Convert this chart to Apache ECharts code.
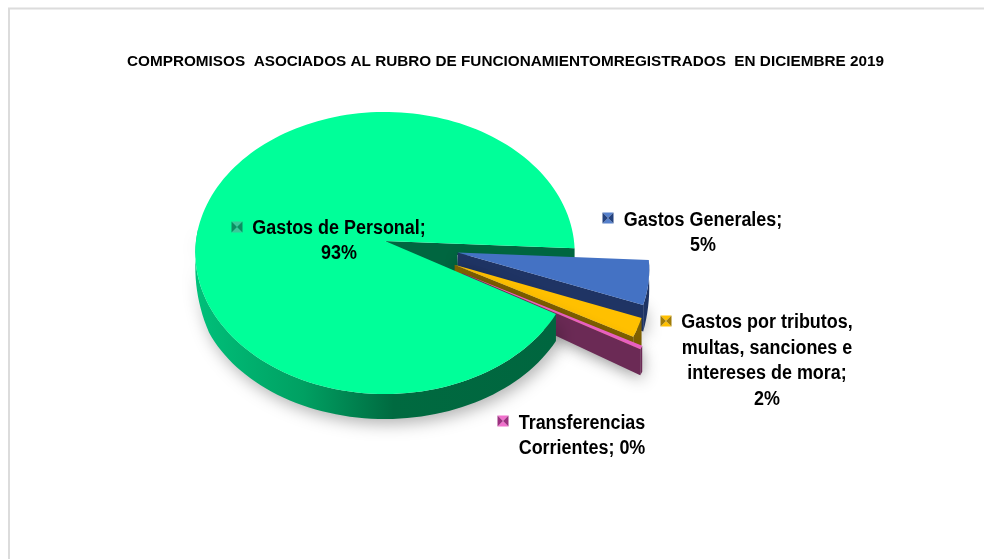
<!doctype html>
<html>
	<head>
		<meta charset="UTF-8">
		<title></title>
		<style>
			html, body { margin: 0; padding: 0; background: #fff; }
			#main { width: 984px; height: 559px; }
		</style>
	</head>
	<body>
		<div id="main"></div>
		<script src="https://cdn.jsdelivr.net/npm/echarts@6/dist/echarts.min.js"></script>
		<script type="text/javascript">
			var titleText = 'COMPROMISOS  ASOCIADOS AL RUBRO DE FUNCIONAMIENTOMREGISTRADOS  EN DICIEMBRE 2019';
			var categories = ['Gastos Generales', 'Gastos por tributos, multas, sanciones e intereses de mora', 'Transferencias Corrientes', 'Gastos de Personal'];
			var values = [5.0, 2.1, 0.4, 92.5];
			var labelLines = [
				['Gastos Generales;', '5%'],
				['Gastos por tributos,', 'multas, sanciones e', 'intereses de mora;', '2%'],
				['Transferencias', 'Corrientes; 0%'],
				['Gastos de Personal;', '93%']
			];

			// look of each slice, same order as categories
			var topColors = ['#4472C4', '#FFC000', '#E85FC0', '#00FF99'];
			var wallColors = ['#1F3464', '#7F6000', '#6B2A55', '#006640'];
			var keyLight = ['#5580CC', '#FFC000', '#F070CC', '#3CC79A'];
			var keyDark = ['#24427E', '#A07C08', '#9C3080', '#0E8C62'];
			var explode = [0.39, 0.40, 0.46, 0];
			var labelPos = [[703, 233], [767, 361], [582, 436], [339, 241]];
			var keyPos = [[608, 218], [666, 321], [503, 421], [237, 227]];

			// fake 3d: circle seen from above with a bit of perspective
			var cx = 385, cy = 241, rx = 189, ry = 140, persp = 0.085;
			var startDeg = 3;

			function project(u, v) {
				var w = 1 / (1 - persp * v);
				return [cx + rx * u * w, cy + ry * v * w];
			}
			function depth(v) {
				if (v < 0) return Math.max(0, 11 * (1 + v));
				if (v > 0.45) return 27 - 2 * (v - 0.45) / 0.55;
				return 11 + 16 * v / 0.45;
			}
			function arcPts(a0, a1, ou, ov) {
				var pts = [];
				var n = Math.max(2, Math.ceil((a1 - a0) / 2));
				for (var i = 0; i <= n; i++) {
					var a = (a0 + (a1 - a0) * i / n) * Math.PI / 180;
					pts.push([Math.cos(a) + ou, Math.sin(a) + ov]);
				}
				return pts;
			}
			function toTop(p) { return project(p[0], p[1]); }
			function toBottom(p) {
				var s = project(p[0], p[1]);
				return [s[0], s[1] + depth(p[1])];
			}
			function poly(points, fill, z2, shadow) {
				var style = { fill: fill };
				if (shadow) {
					style.shadowBlur = 16;
					style.shadowColor = 'rgba(0,0,0,0.3)';
					style.shadowOffsetX = 3;
					style.shadowOffsetY = 5;
				}
				return { type: 'polygon', z2: z2, shape: { points: points }, style: style };
			}
			function keyMark(x, y, light, dark, z2) {
				// little bevelled square next to the label
				var s = 5.5;
				var o = [x, y];
				var tl = [x - s, y - s], tr = [x + s, y - s], br = [x + s, y + s], bl = [x - s, y + s];
				return [
					poly([tl, tr, o], light, z2),
					poly([bl, br, o], light, z2),
					poly([tl, bl, o], dark, z2),
					poly([tr, br, o], dark, z2)
				];
			}

			var total = values.reduce(function (a, b) { return a + b; }, 0);

			function renderSlice(params, api) {
				var idx = params.dataIndex;
				var before = 0;
				for (var i = 0; i < idx; i++) before += values[i];
				var a0 = startDeg + before / total * 360;
				var a1 = a0 + api.value(1) / total * 360;
				var mid = (a0 + a1) / 2 * Math.PI / 180;
				var ou = explode[idx] * Math.cos(mid), ov = explode[idx] * Math.sin(mid);
				var rim = arcPts(a0, a1, ou, ov);
				var apex = [ou, ov];
				var last = rim[rim.length - 1];
				var isMain = idx === 3;
				var kids = [];

				var topPts = [toTop(apex)].concat(rim.map(toTop));

				if (isMain) {
					// cut wall at the back, the small slices sit in front of it
					// the last point runs on under the green top so no gap shows near the centre
					kids.push(poly([toTop(apex), toTop(last), toBottom(last), toTop([0.38, 0.1]), toTop([0.38, 0.35])], wallColors[idx], 1));
					// outer wall only on the front half, from the lower cut round to the left side
					var front = [];
					for (var j = 0; j < rim.length && rim[j][1] > -0.1; j++) front.push(rim[j]);
					var wall = front.map(toTop).concat(front.slice().reverse().map(toBottom));
					var grad = new echarts.graphic.LinearGradient(0, 0, 1, 0, [
						{ offset: 0, color: '#00C07A' },
						{ offset: 0.3, color: '#00A062' },
						{ offset: 0.55, color: '#006A40' },
						{ offset: 1, color: '#00663F' }
					]);
					kids.push(poly(wall, grad, 20, true));
					kids.push(poly(topPts, topColors[idx], 21));
				} else {
					var z = 5 + idx * 2;
					var fullTop = rim.map(toTop);
					var fullBot = rim.map(toBottom);
					// wall under the lower straight edge and under the round edge
					kids.push(poly([toTop(apex), toTop(last), toBottom(last), toBottom(apex)], wallColors[idx], z, true));
					kids.push(poly(fullTop.concat(fullBot.slice().reverse()), wallColors[idx], z));
					kids.push(poly(topPts, topColors[idx], z + 1));
				}

				var k = keyPos[idx];
				kids = kids.concat(keyMark(k[0], k[1], keyLight[idx], keyDark[idx], 30));

				var lp = labelPos[idx];
				kids.push({
					type: 'text',
					z2: 31,
					x: lp[0],
					y: lp[1],
					scaleX: 0.92,
					style: {
						text: labelLines[idx].join('\n'),
						fill: '#000',
						font: 'bold 19.5px "Liberation Sans", Arial, sans-serif',
						lineHeight: 25.5,
						align: 'center',
						verticalAlign: 'middle'
					}
				});
				return { type: 'group', children: kids };
			}

			var option = {
				animation: false,
				backgroundColor: '#fff',
				title: {
					text: titleText,
					left: 122,
					top: 49,
					textStyle: {
						color: '#000',
						fontFamily: '"Liberation Sans", Arial, sans-serif',
						fontWeight: 'bold',
						fontSize: 15.3
					}
				},
				graphic: [{
					type: 'polyline',
					shape: { points: [[9, 559], [9, 8.5], [984, 8.5]] },
					style: { fill: 'none', stroke: '#dcdcdc', lineWidth: 2 },
					silent: true
				}],
				series: [{
					type: 'custom',
					coordinateSystem: 'none',
					renderItem: renderSlice,
					silent: true,
					data: categories.map(function (c, i) { return [c, values[i]]; })
				}]
			};

			var myChart = echarts.init(document.getElementById('main'));
			myChart.setOption(option);
		</script>
	</body>
</html>
